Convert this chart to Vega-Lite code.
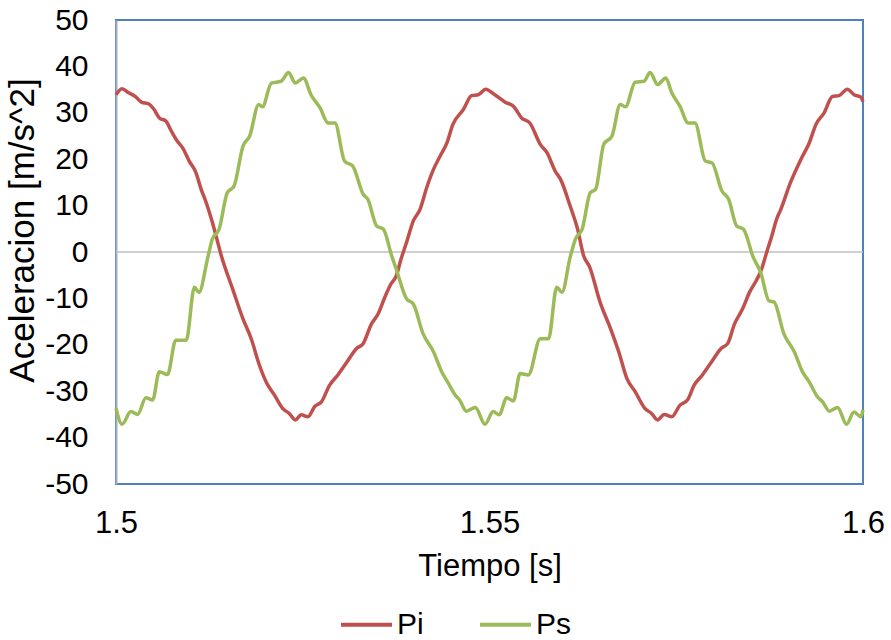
{
  "$schema": "https://vega.github.io/schema/vega-lite/v6.json",
  "width": 747,
  "height": 464,
  "autosize": "none",
  "padding": {"left": 116, "top": 20, "right": 28, "bottom": 156},
  "background": "white",
  "config": {
    "view": {"stroke": "#4F81BD", "strokeWidth": 2},
    "font": "Liberation Sans",
    "axis": {"labelColor": "black", "titleColor": "black", "titleFontWeight": "normal", "grid": false, "ticks": false}
  },
  "layer": [
    {
      "data": {"values": [{"a": 0}]},
      "mark": {"type": "rule", "color": "#BFBFBF", "strokeWidth": 1.5},
      "encoding": {
        "y": {"field": "a", "type": "quantitative", "scale": {"domain": [-50, 50], "nice": false}}
      }
    },
    {
      "data": {"values": [
        {"t":1.5000,"a":33.9,"s":"Pi"},{"t":1.5008,"a":35.2,"s":"Pi"},{"t":1.5017,"a":34.3,"s":"Pi"},{"t":1.5026,"a":33.5,"s":"Pi"},
        {"t":1.5034,"a":32.3,"s":"Pi"},{"t":1.5044,"a":31.9,"s":"Pi"},{"t":1.5051,"a":30.7,"s":"Pi"},{"t":1.5058,"a":28.9,"s":"Pi"},
        {"t":1.5067,"a":28.2,"s":"Pi"},{"t":1.5073,"a":26.4,"s":"Pi"},{"t":1.5082,"a":23.9,"s":"Pi"},{"t":1.5089,"a":22.5,"s":"Pi"},
        {"t":1.5098,"a":19.6,"s":"Pi"},{"t":1.5107,"a":17.1,"s":"Pi"},{"t":1.5114,"a":13.5,"s":"Pi"},{"t":1.5120,"a":11.0,"s":"Pi"},
        {"t":1.5129,"a":6.4,"s":"Pi"},{"t":1.5135,"a":2.8,"s":"Pi"},{"t":1.5141,"a":-0.8,"s":"Pi"},{"t":1.5156,"a":-7.9,"s":"Pi"},
        {"t":1.5170,"a":-14.4,"s":"Pi"},{"t":1.5181,"a":-18.7,"s":"Pi"},{"t":1.5192,"a":-24.4,"s":"Pi"},{"t":1.5201,"a":-28.0,"s":"Pi"},
        {"t":1.5212,"a":-30.8,"s":"Pi"},{"t":1.5223,"a":-33.7,"s":"Pi"},{"t":1.5232,"a":-34.8,"s":"Pi"},{"t":1.5240,"a":-36.2,"s":"Pi"},
        {"t":1.5248,"a":-35.1,"s":"Pi"},{"t":1.5257,"a":-35.5,"s":"Pi"},{"t":1.5266,"a":-33.3,"s":"Pi"},{"t":1.5275,"a":-32.3,"s":"Pi"},
        {"t":1.5286,"a":-28.7,"s":"Pi"},{"t":1.5297,"a":-26.5,"s":"Pi"},{"t":1.5308,"a":-24.0,"s":"Pi"},{"t":1.5322,"a":-20.8,"s":"Pi"},
        {"t":1.5331,"a":-19.7,"s":"Pi"},{"t":1.5342,"a":-15.5,"s":"Pi"},{"t":1.5351,"a":-13.3,"s":"Pi"},{"t":1.5360,"a":-9.7,"s":"Pi"},
        {"t":1.5368,"a":-6.9,"s":"Pi"},{"t":1.5375,"a":-5.2,"s":"Pi"},{"t":1.5382,"a":-1.3,"s":"Pi"},{"t":1.5389,"a":2.1,"s":"Pi"},
        {"t":1.5398,"a":6.7,"s":"Pi"},{"t":1.5407,"a":9.2,"s":"Pi"},{"t":1.5416,"a":13.9,"s":"Pi"},{"t":1.5425,"a":17.8,"s":"Pi"},
        {"t":1.5434,"a":20.7,"s":"Pi"},{"t":1.5443,"a":23.5,"s":"Pi"},{"t":1.5451,"a":27.5,"s":"Pi"},{"t":1.5465,"a":30.7,"s":"Pi"},
        {"t":1.5476,"a":33.7,"s":"Pi"},{"t":1.5485,"a":33.9,"s":"Pi"},{"t":1.5495,"a":35.1,"s":"Pi"},{"t":1.5507,"a":33.9,"s":"Pi"},
        {"t":1.5521,"a":32.3,"s":"Pi"},{"t":1.5532,"a":31.4,"s":"Pi"},{"t":1.5543,"a":28.9,"s":"Pi"},{"t":1.5554,"a":27.8,"s":"Pi"},
        {"t":1.5568,"a":23.2,"s":"Pi"},{"t":1.5577,"a":21.4,"s":"Pi"},{"t":1.5588,"a":17.4,"s":"Pi"},{"t":1.5595,"a":15.7,"s":"Pi"},
        {"t":1.5608,"a":9.9,"s":"Pi"},{"t":1.5618,"a":4.9,"s":"Pi"},{"t":1.5626,"a":-0.8,"s":"Pi"},{"t":1.5634,"a":-3.2,"s":"Pi"},
        {"t":1.5648,"a":-10.8,"s":"Pi"},{"t":1.5662,"a":-16.5,"s":"Pi"},{"t":1.5673,"a":-21.5,"s":"Pi"},{"t":1.5684,"a":-27.3,"s":"Pi"},
        {"t":1.5695,"a":-30.1,"s":"Pi"},{"t":1.5708,"a":-33.7,"s":"Pi"},{"t":1.5717,"a":-34.8,"s":"Pi"},{"t":1.5725,"a":-36.2,"s":"Pi"},
        {"t":1.5734,"a":-35.0,"s":"Pi"},{"t":1.5744,"a":-35.5,"s":"Pi"},{"t":1.5755,"a":-33.0,"s":"Pi"},{"t":1.5765,"a":-31.9,"s":"Pi"},
        {"t":1.5774,"a":-28.7,"s":"Pi"},{"t":1.5785,"a":-26.5,"s":"Pi"},{"t":1.5796,"a":-24.0,"s":"Pi"},{"t":1.5810,"a":-20.8,"s":"Pi"},
        {"t":1.5819,"a":-19.7,"s":"Pi"},{"t":1.5828,"a":-15.5,"s":"Pi"},{"t":1.5839,"a":-12.2,"s":"Pi"},{"t":1.5848,"a":-8.7,"s":"Pi"},
        {"t":1.5857,"a":-6.2,"s":"Pi"},{"t":1.5864,"a":-3.8,"s":"Pi"},{"t":1.5871,"a":-0.1,"s":"Pi"},{"t":1.5878,"a":3.5,"s":"Pi"},
        {"t":1.5884,"a":6.9,"s":"Pi"},{"t":1.5890,"a":9.2,"s":"Pi"},{"t":1.5903,"a":15.0,"s":"Pi"},{"t":1.5917,"a":20.0,"s":"Pi"},
        {"t":1.5928,"a":23.5,"s":"Pi"},{"t":1.5937,"a":27.5,"s":"Pi"},{"t":1.5948,"a":30.0,"s":"Pi"},{"t":1.5959,"a":33.5,"s":"Pi"},
        {"t":1.5968,"a":33.7,"s":"Pi"},{"t":1.5979,"a":35.1,"s":"Pi"},{"t":1.5988,"a":33.9,"s":"Pi"},{"t":1.5997,"a":33.4,"s":"Pi"},
        {"t":1.6000,"a":32.4,"s":"Pi"},

        {"t":1.5000,"a":-33.7,"s":"Ps"},{"t":1.5008,"a":-37.1,"s":"Ps"},{"t":1.5020,"a":-34.4,"s":"Ps"},{"t":1.5029,"a":-35.0,"s":"Ps"},
        {"t":1.5040,"a":-31.4,"s":"Ps"},{"t":1.5049,"a":-31.9,"s":"Ps"},{"t":1.5058,"a":-25.8,"s":"Ps"},{"t":1.5069,"a":-26.4,"s":"Ps"},
        {"t":1.5080,"a":-19.0,"s":"Ps"},{"t":1.5094,"a":-19.0,"s":"Ps"},{"t":1.5105,"a":-7.6,"s":"Ps"},{"t":1.5111,"a":-8.7,"s":"Ps"},
        {"t":1.5123,"a":-1.1,"s":"Ps"},{"t":1.5129,"a":2.8,"s":"Ps"},{"t":1.5138,"a":4.9,"s":"Ps"},{"t":1.5149,"a":12.8,"s":"Ps"},
        {"t":1.5158,"a":14.2,"s":"Ps"},{"t":1.5170,"a":22.8,"s":"Ps"},{"t":1.5179,"a":25.0,"s":"Ps"},{"t":1.5191,"a":31.8,"s":"Ps"},
        {"t":1.5196,"a":31.3,"s":"Ps"},{"t":1.5208,"a":36.4,"s":"Ps"},{"t":1.5221,"a":36.8,"s":"Ps"},{"t":1.5231,"a":38.7,"s":"Ps"},
        {"t":1.5240,"a":36.4,"s":"Ps"},{"t":1.5251,"a":37.5,"s":"Ps"},{"t":1.5261,"a":33.9,"s":"Ps"},{"t":1.5273,"a":31.1,"s":"Ps"},
        {"t":1.5284,"a":27.8,"s":"Ps"},{"t":1.5293,"a":27.8,"s":"Ps"},{"t":1.5306,"a":19.6,"s":"Ps"},{"t":1.5317,"a":18.5,"s":"Ps"},
        {"t":1.5331,"a":12.4,"s":"Ps"},{"t":1.5337,"a":11.4,"s":"Ps"},{"t":1.5349,"a":5.6,"s":"Ps"},{"t":1.5358,"a":4.9,"s":"Ps"},
        {"t":1.5369,"a":-0.8,"s":"Ps"},{"t":1.5375,"a":-3.6,"s":"Ps"},{"t":1.5389,"a":-10.1,"s":"Ps"},{"t":1.5398,"a":-11.2,"s":"Ps"},
        {"t":1.5411,"a":-17.6,"s":"Ps"},{"t":1.5425,"a":-21.5,"s":"Ps"},{"t":1.5436,"a":-25.8,"s":"Ps"},{"t":1.5445,"a":-28.3,"s":"Ps"},
        {"t":1.5454,"a":-30.8,"s":"Ps"},{"t":1.5460,"a":-31.9,"s":"Ps"},{"t":1.5469,"a":-34.3,"s":"Ps"},{"t":1.5481,"a":-33.5,"s":"Ps"},
        {"t":1.5494,"a":-37.1,"s":"Ps"},{"t":1.5505,"a":-34.4,"s":"Ps"},{"t":1.5513,"a":-35.1,"s":"Ps"},{"t":1.5523,"a":-31.4,"s":"Ps"},
        {"t":1.5532,"a":-32.1,"s":"Ps"},{"t":1.5541,"a":-26.2,"s":"Ps"},{"t":1.5552,"a":-26.5,"s":"Ps"},{"t":1.5568,"a":-18.7,"s":"Ps"},
        {"t":1.5579,"a":-18.7,"s":"Ps"},{"t":1.5590,"a":-7.6,"s":"Ps"},{"t":1.5597,"a":-8.7,"s":"Ps"},{"t":1.5608,"a":-1.1,"s":"Ps"},
        {"t":1.5615,"a":2.8,"s":"Ps"},{"t":1.5624,"a":4.9,"s":"Ps"},{"t":1.5635,"a":12.8,"s":"Ps"},{"t":1.5642,"a":13.5,"s":"Ps"},
        {"t":1.5653,"a":23.2,"s":"Ps"},{"t":1.5664,"a":25.0,"s":"Ps"},{"t":1.5675,"a":31.8,"s":"Ps"},{"t":1.5682,"a":31.3,"s":"Ps"},
        {"t":1.5695,"a":36.6,"s":"Ps"},{"t":1.5707,"a":36.8,"s":"Ps"},{"t":1.5715,"a":38.7,"s":"Ps"},{"t":1.5725,"a":36.1,"s":"Ps"},
        {"t":1.5736,"a":37.5,"s":"Ps"},{"t":1.5744,"a":34.3,"s":"Ps"},{"t":1.5755,"a":31.4,"s":"Ps"},{"t":1.5766,"a":27.8,"s":"Ps"},
        {"t":1.5775,"a":27.8,"s":"Ps"},{"t":1.5789,"a":19.6,"s":"Ps"},{"t":1.5798,"a":19.2,"s":"Ps"},{"t":1.5811,"a":13.2,"s":"Ps"},
        {"t":1.5820,"a":11.4,"s":"Ps"},{"t":1.5831,"a":5.6,"s":"Ps"},{"t":1.5840,"a":4.9,"s":"Ps"},{"t":1.5853,"a":-1.1,"s":"Ps"},
        {"t":1.5863,"a":-4.4,"s":"Ps"},{"t":1.5874,"a":-10.5,"s":"Ps"},{"t":1.5881,"a":-10.8,"s":"Ps"},{"t":1.5894,"a":-17.6,"s":"Ps"},
        {"t":1.5908,"a":-21.5,"s":"Ps"},{"t":1.5919,"a":-25.8,"s":"Ps"},{"t":1.5928,"a":-28.0,"s":"Ps"},{"t":1.5939,"a":-31.2,"s":"Ps"},
        {"t":1.5946,"a":-32.3,"s":"Ps"},{"t":1.5955,"a":-34.3,"s":"Ps"},{"t":1.5966,"a":-33.5,"s":"Ps"},{"t":1.5978,"a":-37.1,"s":"Ps"},
        {"t":1.5988,"a":-34.5,"s":"Ps"},{"t":1.5997,"a":-35.5,"s":"Ps"},{"t":1.6000,"a":-34.0,"s":"Ps"}
      ]},
      "mark": {"type": "line", "strokeWidth": 3.5, "interpolate": "monotone"},
      "encoding": {
        "x": {
          "field": "t", "type": "quantitative",
          "scale": {"domain": [1.5, 1.6], "nice": false, "zero": false},
          "axis": {"values": [1.5, 1.55, 1.6], "format": "~g", "title": "Tiempo [s]", "domain": false,
                   "labelFontSize": 31, "labelPadding": 24, "labelFlush": false, "titleFontSize": 31,
                   "titleBaseline": "alphabetic", "titleY": 91}
        },
        "y": {
          "field": "a", "type": "quantitative",
          "scale": {"domain": [-50, 50], "nice": false},
          "axis": {"values": [-50, -40, -30, -20, -10, 0, 10, 20, 30, 40, 50],
                   "labelExpr": "'' + datum.value",
                   "title": "Aceleracion [m/s^2]", "domain": true, "domainColor": "#9CAFC9", "domainWidth": 2,
                   "labelFontSize": 30, "labelPadding": 28, "labelFlush": false, "titleFontSize": 35,
                   "titleBaseline": "alphabetic", "titleX": -83, "titleY": 210}
        },
        "color": {
          "field": "s", "type": "nominal",
          "scale": {"domain": ["Pi", "Ps"], "range": ["#C0504D", "#9BBB59"]},
          "legend": {"title": null, "orient": "none", "legendX": 223, "legendY": 577, "direction": "horizontal",
                     "symbolType": "stroke", "symbolSize": 2600, "symbolStrokeWidth": 4,
                     "labelFontSize": 30, "labelOffset": 3, "columnPadding": 48, "labelColor": "black"}
        }
      }
    }
  ]
}
